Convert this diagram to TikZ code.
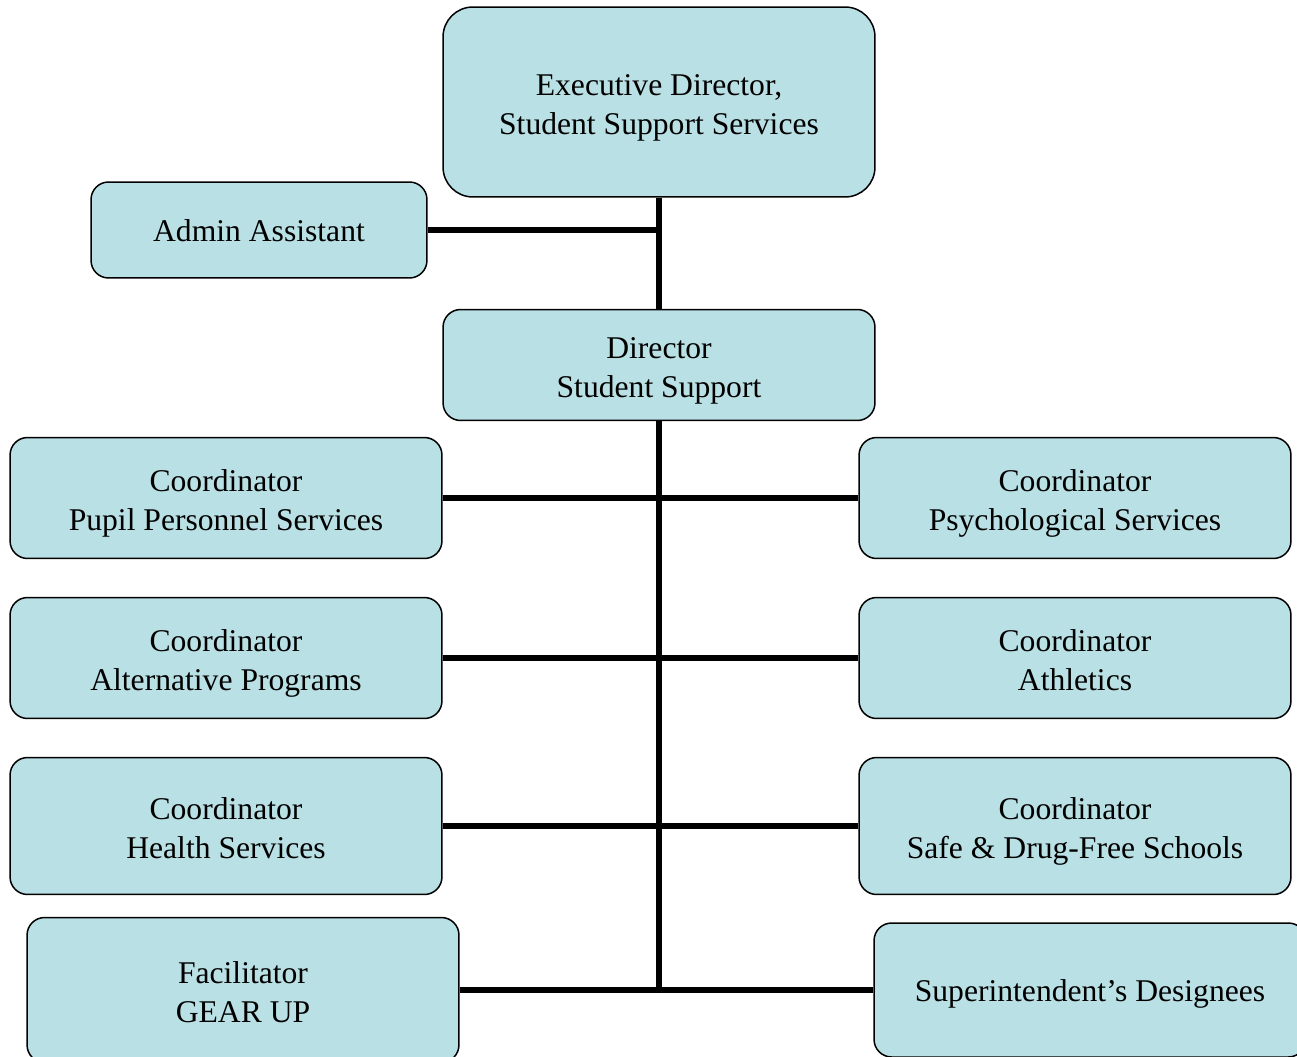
\documentclass[tikz,border=0pt]{standalone}
\usepackage{fontspec}
\setmainfont{Liberation Serif}
\usetikzlibrary{positioning}
\definecolor{boxfill}{RGB}{185,224,228}
\tikzset{
    unit/.style={draw, fill=boxfill, rounded corners=10pt, line width=0.85pt, align=center, inner sep=0pt, font=\fontsize{18}{22.4}\selectfont, text height=37.5pt, text depth=0pt}, % org chart box, two lines
    single/.style={text height=13.5pt, text depth=0pt}, % one line of text
    wide/.style={minimum width=8.64cm, minimum height=2.42cm}, % coordinator box
    link/.style={line width=3pt} % connector line
}

\begin{document}
\begin{tikzpicture}[x=0.02cm, y=-0.02cm]
    \useasboundingbox (0,0) rectangle (1297,1057);
    \clip (0,0) rectangle (1297,1057);

    \node[unit, wide, minimum height=3.8cm, rounded corners=17pt] (exec) at (659,102) {Executive Director,\\Student Support Services};
    \node[unit, single, minimum width=6.72cm, minimum height=1.92cm] (admin) at (259,230) {Admin Assistant};
    \node[unit, wide, minimum height=2.22cm] (director) at (659,365) {Director\\Student Support};

    \node[unit, wide] (pupil) at (226,498) {Coordinator\\Pupil Personnel Services};
    \node[unit, wide] (psych) at (1075,498) {Coordinator\\Psychological Services};
    \node[unit, wide] (alt) at (226,658) {Coordinator\\Alternative Programs};
    \node[unit, wide] (athl) at (1075,658) {Coordinator\\Athletics};
    \node[unit, wide, minimum height=2.74cm] (health) at (226,826) {Coordinator\\Health Services};
    \node[unit, wide, minimum height=2.74cm] (safe) at (1075,826) {Coordinator\\Safe \& Drug-Free Schools};
    \node[unit, wide, minimum height=2.9cm] (gear) at (243,990) {Facilitator\\GEAR UP};
    \node[unit, single, wide, minimum height=2.68cm] (super) at (1090,990) {Superintendent’s Designees};

    \draw[link] (exec.south) -- (director.north);
    \draw[link] (admin.east) -- (admin.east -| exec.south);
    \draw[link] (director.south) -- (director.south |- gear.east);
    \foreach \l/\r in {pupil/psych, alt/athl, health/safe, gear/super} {\draw[link] (\l.east) -- (\r.west);}
\end{tikzpicture}
\end{document}
